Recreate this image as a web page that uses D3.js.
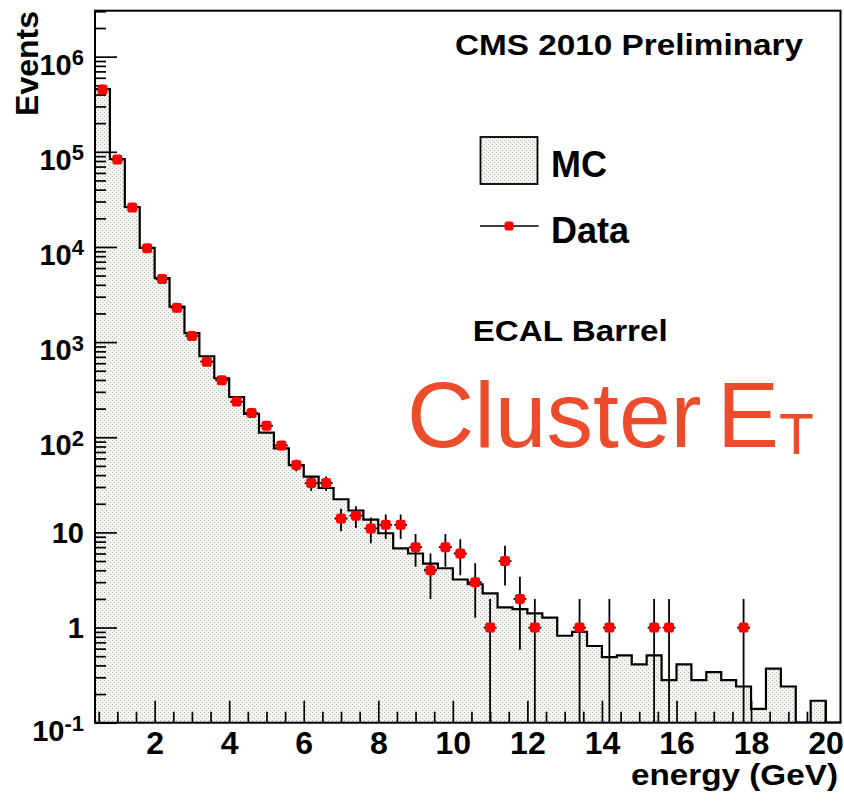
<!DOCTYPE html>
<html>
<head>
<meta charset="utf-8">
<script src="https://cdn.jsdelivr.net/npm/d3@7"></script>
<style>
  body { margin: 0; background: #fff; }
  svg { display: block; }
  text { font-family: "Liberation Sans", Arial, Helvetica, sans-serif; }
</style>
</head>
<body>
<svg id="chart" width="844" height="801"></svg>
<script>
// Histogram binning: 50 bins of 0.4 GeV, low edges listed explicitly
const binLow = [0.4, 0.8, 1.2, 1.6, 2.0, 2.4, 2.8, 3.2, 3.6, 4.0,
                4.4, 4.8, 5.2, 5.6, 6.0, 6.4, 6.8, 7.2, 7.6, 8.0,
                8.4, 8.8, 9.2, 9.6, 10.0, 10.4, 10.8, 11.2, 11.6, 12.0,
                12.4, 12.8, 13.2, 13.6, 14.0, 14.4, 14.8, 15.2, 15.6, 16.0,
                16.4, 16.8, 17.2, 17.6, 18.0, 18.4, 18.8, 19.2, 19.6, 20.0];
const binWidth = 0.4;

// Simulated (MC) expectation per bin, normalised to data
const mcValues = [455000, 84000, 26300, 9800, 4700, 2360, 1240, 710, 417, 265,
                  176, 112, 76.5, 51, 38.5, 29.3, 22.3, 17, 13.6, 9.8,
                  6.8, 6.0, 4.7, 4.2, 3.2, 2.85, 2.29, 1.63, 1.56, 1.41,
                  1.27, 0.82, 0.9, 0.64, 0.49, 0.51, 0.41, 0.51, 0.28, 0.41,
                  0.28, 0.34, 0.28, 0.24, 0.14, 0.37, 0.24, 0, 0.17, 0];

// Observed event counts per bin
const dataCounts = [452000, 83000, 26000, 9700, 4600, 2300, 1160, 622, 397, 237,
                    180, 132, 82, 51, 33, 33, 14, 15, 11, 12,
                    12, 7, 4, 7, 6, 3, 1, 5, 2, 1,
                    0, 0, 1, 0, 1, 0, 0, 1, 1, 0,
                    0, 0, 0, 1, 0, 0, 0, 0, 0, 0];

// Axis ticks
const xMajorTicks = [2, 4, 6, 8, 10, 12, 14, 16, 18, 20];
const xMinorTicks = d3.range(0.5, 20.01, 0.5).filter(v => v % 2 !== 0);
const yMajorTicks = [0.1, 1, 10, 1e2, 1e3, 1e4, 1e5, 1e6];
const yTickBase = ["10", "1", "10", "10", "10", "10", "10", "10"];
const yTickExp  = ["-1", "", "", "2", "3", "4", "5", "6"];
const yMinorTicks = [];
for (let e = -1; e <= 6; e++) {
  for (let m = 2; m <= 9; m++) {
    const v = m * Math.pow(10, e);
    if (v <= 3e6) yMinorTicks.push(v);
  }
}

const svg = d3.select("#chart");
const plot = { left: 95, right: 840.5, top: 10.7, bottom: 722.7 };

const x = d3.scaleLinear().domain([0.4, 20.4]).range([plot.left, plot.right]);
const y = d3.scaleLog().domain([0.1, Math.pow(10, 6.483)]).range([plot.bottom, plot.top]);
const yc = v => y(Math.max(v, 0.1));

// Dotted fill used by the MC histogram and its legend box
const defs = svg.append("defs");
const pat = defs.append("pattern")
  .attr("id", "dots").attr("patternUnits", "userSpaceOnUse")
  .attr("width", 4).attr("height", 4);
pat.append("rect").attr("width", 4).attr("height", 4).attr("fill", "#f5f5f2");
pat.append("rect").attr("x", 0).attr("y", 0).attr("width", 1).attr("height", 1).attr("fill", "#b0b0ad");
pat.append("rect").attr("x", 2).attr("y", 2).attr("width", 1).attr("height", 1).attr("fill", "#b0b0ad");

defs.append("clipPath").attr("id", "frameClip")
  .append("rect")
  .attr("x", plot.left).attr("y", plot.top)
  .attr("width", plot.right - plot.left).attr("height", plot.bottom - plot.top);

// MC histogram as a step area
const steps = binLow.map((lo, i) => ({ x: lo, v: mcValues[i] }));
steps.push({ x: binLow[binLow.length - 1] + binWidth, v: mcValues[mcValues.length - 1] });

const area = d3.area()
  .x(d => x(d.x)).y0(plot.bottom).y1(d => yc(d.v))
  .curve(d3.curveStepAfter);
const line = d3.line()
  .x(d => x(d.x)).y(d => yc(d.v))
  .curve(d3.curveStepAfter);

const hist = svg.append("g").attr("clip-path", "url(#frameClip)");
hist.append("path").datum(steps).attr("d", area).attr("fill", "url(#dots)");
hist.append("path").datum(steps).attr("d", line)
  .attr("fill", "none").attr("stroke", "#000").attr("stroke-width", 2.2);

// Axes (ticks pointing into the frame)
function styleAxis(g) {
  g.select(".domain").remove();
  g.selectAll(".tick line").attr("stroke", "#000").attr("stroke-width", 1.7);
  g.attr("font-family", null).attr("font-size", null);
}

svg.append("g").attr("transform", `translate(0,${plot.bottom})`)
  .call(d3.axisBottom(x).tickValues(xMinorTicks).tickSize(-11).tickFormat(""))
  .call(styleAxis);
svg.append("g").attr("transform", `translate(0,${plot.bottom})`)
  .call(d3.axisBottom(x).tickValues(xMajorTicks).tickSize(-22).tickPadding(9).tickFormat(d3.format("d")))
  .call(styleAxis)
  .call(g => g.selectAll(".tick text")
    .attr("fill", "#000").attr("font-size", 32).attr("font-weight", "bold"));

svg.append("g").attr("transform", `translate(${plot.left},0)`)
  .call(d3.axisLeft(y).tickValues(yMinorTicks).tickSize(-11).tickFormat(""))
  .call(styleAxis);
const yAxisG = svg.append("g").attr("transform", `translate(${plot.left},0)`)
  .call(d3.axisLeft(y).tickValues(yMajorTicks).tickSize(-22).tickFormat(""))
  .call(styleAxis);

yAxisG.selectAll(".tick").each(function(d, i) {
  const t = d3.select(this).select("text")
    .attr("x", -11).attr("dy", null)
    .attr("text-anchor", "end").attr("fill", "#000")
    .attr("font-weight", "bold").attr("font-size", 29);
  if (yTickExp[i]) {
    t.attr("y", 17.5);
    t.append("tspan").text(yTickBase[i]);
    t.append("tspan").attr("dy", -9.5).attr("font-size", 22).text(yTickExp[i]);
  } else {
    t.attr("y", 10.4).text(yTickBase[i]);
  }
});

// Frame
svg.append("rect")
  .attr("x", plot.left).attr("y", plot.top)
  .attr("width", plot.right - plot.left).attr("height", plot.bottom - plot.top)
  .attr("fill", "none").attr("stroke", "#000").attr("stroke-width", 2);

// Data points with Poisson error bars
const pts = dataCounts.map((n, i) => ({ lo: binLow[i], n }))
  .filter(d => d.n > 0);
const dataG = svg.append("g").attr("clip-path", "url(#frameClip)");
const eb = dataG.selectAll("g.pt").data(pts).join("g").attr("class", "pt");
eb.append("line")
  .attr("x1", d => x(d.lo + binWidth / 2)).attr("x2", d => x(d.lo + binWidth / 2))
  .attr("y1", d => yc(d.n + Math.sqrt(d.n)))
  .attr("y2", d => yc(d.n - Math.sqrt(d.n)))
  .attr("stroke", "#000").attr("stroke-width", 1.8);
eb.append("line")
  .attr("x1", d => x(d.lo) + 1).attr("x2", d => x(d.lo + binWidth) - 1)
  .attr("y1", d => yc(d.n)).attr("y2", d => yc(d.n))
  .attr("stroke", "#000").attr("stroke-width", 1.8);
const mk = 10;
eb.append("rect")
  .attr("x", d => x(d.lo + binWidth / 2) - mk / 2).attr("y", d => yc(d.n) - mk / 2)
  .attr("width", mk).attr("height", mk).attr("rx", 2.8)
  .attr("fill", "#ff0000");

// Labels
svg.append("text").attr("x", 455).attr("y", 55)
  .attr("font-size", 29).attr("font-weight", "bold")
  .attr("textLength", 348).attr("lengthAdjust", "spacingAndGlyphs")
  .text("CMS 2010 Preliminary");

svg.append("text").attr("x", 472.7).attr("y", 340.7)
  .attr("font-size", 29).attr("font-weight", "bold")
  .attr("textLength", 195).attr("lengthAdjust", "spacingAndGlyphs")
  .text("ECAL Barrel");

const big = svg.append("text").attr("x", 407).attr("y", 446.7)
  .attr("font-size", 93).attr("fill", "#ec4c2c");
big.append("tspan").text("Cluster");
big.append("tspan").attr("x", 717).text("E");
big.append("tspan").attr("x", 779).attr("y", 454).attr("font-size", 57).text("T");

svg.append("text").attr("x", 838).attr("y", 785)
  .attr("text-anchor", "end").attr("font-size", 30).attr("font-weight", "bold")
  .attr("textLength", 207).attr("lengthAdjust", "spacingAndGlyphs")
  .text("energy (GeV)");

svg.append("text")
  .attr("transform", "translate(37.5,11) rotate(-90)")
  .attr("text-anchor", "end").attr("font-size", 32).attr("font-weight", "bold")
  .text("Events");

// Legend
const leg = svg.append("g");
leg.append("rect").attr("x", 480.5).attr("y", 137).attr("width", 57).attr("height", 47)
  .attr("fill", "url(#dots)").attr("stroke", "#000").attr("stroke-width", 1.8);
leg.append("text").attr("x", 551).attr("y", 176.7)
  .attr("font-size", 36).attr("font-weight", "bold").text("MC");
leg.append("line").attr("x1", 480).attr("x2", 538.5).attr("y1", 226).attr("y2", 226)
  .attr("stroke", "#000").attr("stroke-width", 1.6);
leg.append("rect").attr("x", 504.5).attr("y", 221.5).attr("width", 9).attr("height", 9)
  .attr("rx", 2.5).attr("fill", "#ff0000");
leg.append("text").attr("x", 551).attr("y", 242.7)
  .attr("font-size", 36).attr("font-weight", "bold").text("Data");
</script>
</body>
</html>
